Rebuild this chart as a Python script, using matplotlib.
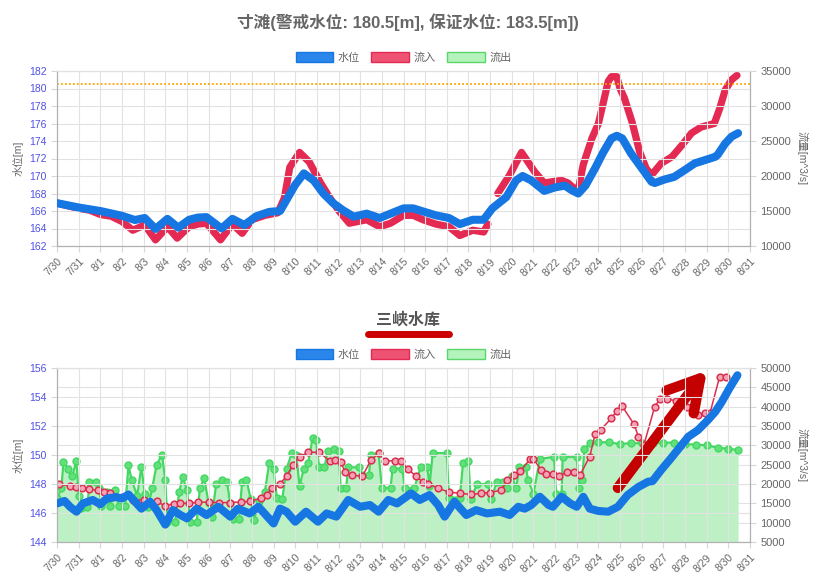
import matplotlib
matplotlib.use("Agg")
import matplotlib.pyplot as plt
from matplotlib.lines import Line2D
from matplotlib.patches import Patch

plt.rcParams['font.family'] = ['Liberation Sans', 'Noto Sans CJK SC', 'DejaVu Sans']

# x axis: days since 7/30 00:00
date_labels = ['7/30', '7/31', '8/1', '8/2', '8/3', '8/4', '8/5', '8/6', '8/7', '8/8',
               '8/9', '8/10', '8/11', '8/12', '8/13', '8/14', '8/15', '8/16', '8/17',
               '8/18', '8/19', '8/20', '8/21', '8/22', '8/23', '8/24', '8/25', '8/26',
               '8/27', '8/28', '8/29', '8/30', '8/31']

# ---- 寸滩 ----
cuntan_level_days = [0.0, 1.0, 2.0, 3.0, 3.6, 4.05, 4.55, 5.1, 5.6, 6.1, 6.5, 6.9, 7.6, 8.1,
                     8.65, 9.2, 9.8, 10.3, 11.0, 11.4, 11.85, 12.3, 12.75, 13.2, 13.7, 14.3,
                     14.9, 15.4, 16.0, 16.45, 16.9, 17.5, 18.1, 18.6, 19.2, 19.7, 20.1, 20.75,
                     21.2, 21.5, 21.9, 22.5, 23.0, 23.45, 23.75, 24.07, 24.4, 24.85, 25.2,
                     25.6, 25.85, 26.1, 26.5, 27.0, 27.45, 27.6, 28.05, 28.5, 29.0, 29.45,
                     29.9, 30.4, 30.5, 30.85, 31.15, 31.45]
cuntan_level = [166.9, 166.4, 166.0, 165.45, 164.97, 165.2, 163.95, 165.1, 164.1, 165.0,
                165.25, 165.3, 164.0, 165.1, 164.4, 165.4, 165.9, 166.0, 169.0, 170.3,
                169.5, 168.0, 166.9, 166.1, 165.35, 165.7, 165.2, 165.7, 166.3, 166.3,
                165.95, 165.5, 165.2, 164.5, 165.0, 165.0, 166.3, 167.6, 169.5, 170.0,
                169.5, 168.3, 168.7, 168.9, 168.4, 168.0, 168.9, 170.9, 172.6, 174.3,
                174.6, 174.3, 172.6, 170.9, 169.35, 169.2, 169.6, 169.9, 170.7, 171.45,
                171.8, 172.2, 172.4, 173.7, 174.5, 174.9]

cuntan_flow_days = [0.0, 0.5, 1.0, 1.5, 2.0, 2.5, 3.0, 3.5, 4.05, 4.55, 5.1, 5.55, 6.1, 6.5,
                    6.9, 7.55, 8.1, 8.55, 9.0, 9.6, 10.2, 10.5, 10.75, 11.2, 11.65, 12.15,
                    12.6, 13.05, 13.5, 14.3, 14.9, 15.4, 16.0, 16.45, 16.9, 17.5, 18.1, 18.6,
                    19.2, 19.7, 19.9, 20.1, 20.35, 20.9, 21.45, 21.75, 22.05, 22.5, 23.0,
                    23.3, 23.6, 24.05, 24.3, 24.7, 25.0, 25.2, 25.45, 25.6, 25.85, 26.0,
                    26.2, 26.55, 26.9, 27.2, 27.45, 27.9, 28.4, 28.85, 29.3, 29.75, 30.35,
                    30.6, 30.85, 31.15, 31.4]
cuntan_flow = [16125, 15750, 15375, 15125, 14500, 14250, 13500, 12250, 13000, 10875, 12750,
               11125, 12750, 13125, 13250, 10875, 13125, 11810, 13750, 14375, 14750, 16875,
               21250, 23375, 22000, 19125, 16875, 14875, 13250, 13750, 12750, 13250, 14375,
               14375, 13750, 13125, 12750, 11500, 12250, 12000, 13125, float('nan'), 17500,
               20125, 23375, 22000, 20625, 19000, 19250, 19375, 19000, 17750, 21625, 25375,
               27500, 30125, 33500, 34190, 34190, 32500, 31125, 27750, 23500, 21125, 20125,
               21810, 22750, 24375, 26125, 27000, 27500, 29625, 32250, 33750, 34375]
warning_level = 180.5

# ---- 三峡水库 ----
tgr_level_days = [0.0, 0.35, 0.6, 0.9, 1.2, 1.65, 2.0, 2.3, 2.75, 3.0, 3.3, 3.6, 3.9, 4.3,
                  4.6, 5.0, 5.35, 5.7, 6.0, 6.45, 6.9, 7.45, 8.0, 8.35, 8.9, 9.3, 10.0, 10.3,
                  10.6, 11.0, 11.5, 12.05, 12.45, 12.9, 13.45, 14.0, 14.45, 14.85, 15.3,
                  15.7, 16.35, 16.75, 17.2, 17.6, 17.9, 18.35, 18.9, 19.35, 19.85, 20.45,
                  20.9, 21.3, 21.6, 21.9, 22.3, 22.7, 22.9, 23.3, 23.7, 24.0, 24.3, 24.6,
                  25.0, 25.45, 25.9, 26.35, 26.85, 27.3, 27.5, 27.9, 28.35, 28.85, 29.15,
                  29.6, 30.05, 30.4, 30.7, 31.05, 31.42]
tgr_level = [146.66, 146.83, 146.43, 146.09, 146.66, 146.9, 146.6, 147.0, 147.1, 147.0,
             147.28, 146.78, 146.3, 146.78, 146.2, 145.2, 146.2, 145.86, 145.63, 146.3,
             145.86, 146.43, 145.75, 146.3, 145.97, 146.43, 145.28, 146.3, 146.09, 145.4,
             146.09, 145.4, 145.97, 145.75, 146.9, 146.43, 146.55, 146.09, 146.9, 146.66,
             147.35, 146.9, 147.24, 146.55, 145.75, 146.78, 145.86, 146.2, 145.97, 146.09,
             145.86, 146.43, 146.3, 146.55, 147.12, 146.55, 146.43, 147.12, 146.66, 146.43,
             147.12, 146.3, 146.14, 146.09, 146.43, 147.24, 147.8, 148.16, 148.2, 148.97,
             149.77, 150.7, 151.26, 151.72, 152.4, 152.99, 153.67, 154.6, 155.5]

tgr_inflow_days = [0.1, 0.6, 0.9, 1.15, 1.5, 1.9, 2.15, 2.45, 3.0, 3.5, 4.0, 4.6, 5.0, 5.4,
                   5.7, 6.1, 6.5, 7.0, 7.5, 8.0, 8.5, 8.9, 9.4, 9.7, 9.95, 10.3, 10.6, 10.9,
                   11.2, 11.6, 12.1, 12.6, 12.85, 13.1, 13.3, 13.6, 14.1, 14.5, 14.85, 15.15,
                   15.6, 15.9, 16.2, 16.6, 16.9, 17.15, 17.6, 18.1, 18.6, 19.1, 19.6, 20.0,
                   20.5, 20.8, 21.1, 21.4, 21.85, 22.0, 22.35, 22.6, 22.9, 23.2, 23.55, 23.85,
                   24.15, 24.6, 24.85, 25.1, 25.6, 25.85, 26.1, 26.65, 26.85, 27.1, 27.6,
                   27.85, 28.15, 28.6, 29.1, 29.6, 29.9, 30.15, 30.6, 30.9]
tgr_inflow = [20000, 19500, 19300, 19050, 18600, 18400, 18000, 17600, 16700, 15900, 15800,
              15500, 14300, 14900, 15000, 15000, 15300, 15300, 15200, 15200, 15400, 15500,
              16300, 17200, 19000, 20100, 22000, 25000, 27100, 28200, 28200, 25950, 26200,
              25600, 23200, 22300, 22000, 26200, 27900, 26000, 26000, 26000, 23800, 22000,
              20400, 20100, 18900, 17900, 17600, 17300, 17600, 17800, 18400, 21000, 22300,
              23300, 26500, 26500, 23700, 22600, 22600, 22000, 23200, 23100, 22300, 27100,
              32900, 34000, 37000, 38900, 40100, 35400, 32200, 30100, 40000, 42000, 42000,
              41500, 40000, 37900, 38300, 38300, 47800, 47800]

tgr_outflow_days = [0.0, 0.2, 0.3, 0.5, 0.7, 0.9, 1.0, 1.1, 1.4, 1.5, 1.8, 1.95, 2.05, 2.3,
                    2.45, 2.7, 2.85, 3.15, 3.3, 3.45, 3.7, 3.9, 4.05, 4.2, 4.4, 4.6, 4.85,
                    5.0, 5.1, 5.45, 5.65, 5.8, 6.0, 6.15, 6.45, 6.6, 6.8, 7.0, 7.15, 7.35,
                    7.6, 7.85, 8.0, 8.15, 8.4, 8.55, 8.75, 8.95, 9.1, 9.35, 9.6, 9.8, 10.0,
                    10.15, 10.4, 10.6, 10.85, 11.05, 11.2, 11.4, 11.6, 11.8, 11.95, 12.1,
                    12.35, 12.5, 12.8, 13.0, 13.1, 13.35, 13.45, 13.95, 14.1, 14.4, 14.5,
                    14.85, 15.0, 15.4, 15.5, 15.95, 16.05, 16.5, 16.8, 17.1, 17.2, 17.35,
                    18.0, 18.1, 18.6, 18.75, 19.0, 19.1, 19.4, 19.9, 20.05, 20.3, 20.6, 20.8,
                    21.0, 21.2, 21.35, 21.65, 21.75, 22.0, 22.3, 22.95, 23.05, 23.3, 23.35,
                    24.0, 24.1, 24.25, 24.35, 24.6, 25.0, 25.5, 26.0, 26.5, 27.0, 27.5, 28.0,
                    28.5, 29.0, 29.5, 30.0, 30.5, 31.0, 31.45]
tgr_outflow = [16300, 18900, 25800, 24000, 22000, 26000, 17000, 13700, 14000, 20500, 20600,
               19000, 14200, 18000, 14200, 18500, 14200, 14200, 24800, 21000, 17000, 24500,
               17500, 14000, 19000, 25000, 27500, 21000, 10300, 10300, 18000, 21800, 18500,
               10300, 10300, 19000, 21500, 15000, 11500, 20000, 21000, 20500, 15000, 11000,
               11000, 20500, 21000, 16000, 10800, 15500, 18000, 25500, 24000, 16500, 16000,
               24000, 28000, 27500, 19500, 24000, 25500, 31800, 31500, 24500, 24300, 28500,
               29000, 28500, 19000, 19000, 24300, 24300, 22300, 22300, 27500, 28000, 19000,
               19000, 24000, 24000, 18900, 18900, 24500, 24500, 19500, 28000, 28000, 16500,
               16500, 25500, 26000, 16000, 20000, 20000, 16000, 20500, 20500, 19000, 22000,
               19000, 24500, 24500, 21000, 17500, 26500, 27000, 17500, 17500, 27000, 27000,
               19000, 21000, 29000, 30500, 30800, 30800, 30300, 30600, 30500, 30600, 30700,
               30700, 30300, 30200, 30000, 29400, 29100, 28800]

# hand-drawn annotation arrow (day, flow) on the right axis
arrow_shaft_days = [25.9, 29.7]
arrow_shaft_flow = [19000, 47300]
arrow_head_days = [28.15, 29.7, 29.4]
arrow_head_flow = [44200, 47300, 38300]

BLUE = '#1676e2'
RED = '#e42a52'
GREEN = '#44d862'
FILL = '#bdf0c5'
GREY = '#666666'
TICK_BLUE = '#5050e8'

fig = plt.figure(figsize=(8.16, 5.83), dpi=100)
W, H = 816, 583


def setup(ax, axr, left_lim, left_step, right_lim, right_step):
    ax.set_zorder(axr.get_zorder() + 1)
    ax.patch.set_visible(False)
    ax.set_xlim(0, 32)
    ax.set_xticks(range(len(date_labels)))
    ax.set_xticklabels(date_labels, rotation=45, ha='right', rotation_mode='anchor')
    ax.set_ylim(*left_lim)
    ax.set_yticks(range(left_lim[0], left_lim[1] + 1, left_step))
    axr.set_ylim(*right_lim)
    axr.set_yticks(range(right_lim[0], right_lim[1] + 1, right_step))
    ax.grid(True, color='#e2e2e2', lw=0.8)
    ax.set_axisbelow(True)
    ax.tick_params(axis='y', colors=TICK_BLUE, labelsize=7.5, length=4)
    ax.tick_params(axis='x', colors=GREY, labelsize=7.5, length=4)
    axr.tick_params(axis='y', colors=GREY, labelsize=8, length=4)
    for a in (ax, axr):
        for s in ('left', 'right', 'bottom'):
            a.spines[s].set_color('#b0b0b0')
        a.spines['top'].set_color('#e2e2e2')
    ax.tick_params(axis='both', color='#d8d8d8')
    axr.tick_params(axis='y', color='#d8d8d8')
    ax.set_ylabel('水位[m]', color=GREY, fontsize=7.5, labelpad=4)
    axr.set_ylabel('流量[m^3/s]', color=GREY, fontsize=7.5, rotation=270, labelpad=12)
    handles = [Patch(facecolor='#2a86ea', edgecolor=BLUE),
               Patch(facecolor='#ef5373', edgecolor=RED),
               Patch(facecolor='#b5f3bd', edgecolor='#5ad66a')]
    leg = ax.legend(handles, ['水位', '流入', '流出'], loc='lower center',
                    bbox_to_anchor=(0.5, 1.0), ncol=3, frameon=False, fontsize=8,
                    handlelength=3.4, handleheight=1.0, columnspacing=1.0,
                    handletextpad=0.4, borderaxespad=0.3)
    for t in leg.get_texts():
        t.set_color(GREY)


# top chart
ax1 = fig.add_axes([57 / W, 1 - 246 / H, 693 / W, 175 / H])
ax1r = ax1.twinx()
setup(ax1, ax1r, (162, 182), 2, (10000, 35000), 5000)
ax1r.plot(cuntan_flow_days, cuntan_flow, color=RED, lw=5.2,
          solid_capstyle='round', solid_joinstyle='round')
ax1.plot(cuntan_level_days, cuntan_level, color=BLUE, lw=5.8,
         solid_capstyle='round', solid_joinstyle='round', zorder=3)
ax1.axhline(warning_level, color='#ffa500', ls=(0, (1, 1.2)), lw=1.3, zorder=2)
fig.text(0.5, 1 - 22 / H, '寸滩(警戒水位: 180.5[m], 保证水位: 183.5[m])',
         ha='center', va='center', fontsize=12, fontweight='bold', color=GREY)

# bottom chart
ax2 = fig.add_axes([57 / W, 1 - 542 / H, 693 / W, 174 / H])
ax2r = ax2.twinx()
setup(ax2, ax2r, (144, 156), 2, (5000, 50000), 5000)
ax2r.grid(True, axis='y', color='#e2e2e2', lw=0.8)
ax2r.set_axisbelow(True)
ax2r.fill_between(tgr_outflow_days, tgr_outflow, 5000, color=FILL, lw=0, zorder=1)
ax2r.plot(tgr_outflow_days, tgr_outflow, color=GREEN, lw=1.6, marker='o', ms=5,
          mfc='#62e07c', mec=GREEN, zorder=2)
ax2r.plot(tgr_inflow_days, tgr_inflow, color='#d9304f', lw=1.1, marker='o', ms=4.8,
          mfc='#f3a3b5', mec='#d9304f', mew=1.1, zorder=3)
ax2r.plot(arrow_shaft_days, arrow_shaft_flow, color='#c40000', lw=7.5,
          solid_capstyle='round', zorder=5)
ax2r.plot(arrow_head_days, arrow_head_flow, color='#c40000', lw=7.5,
          solid_capstyle='round', solid_joinstyle='round', zorder=5)
ax2.plot(tgr_level_days, tgr_level, color=BLUE, lw=5.8,
         solid_capstyle='round', solid_joinstyle='round', zorder=3)
fig.text(0.5, 1 - 320 / H, '三峡水库', ha='center', va='center', fontsize=11.5,
         fontweight='bold', color='#555555')
fig.add_artist(Line2D([368 / W, 449 / W], [1 - 334 / H, 1 - 334 / H], color='#cc0000',
                      lw=5, solid_capstyle='round'))

fig.savefig('out.png', dpi=100)
